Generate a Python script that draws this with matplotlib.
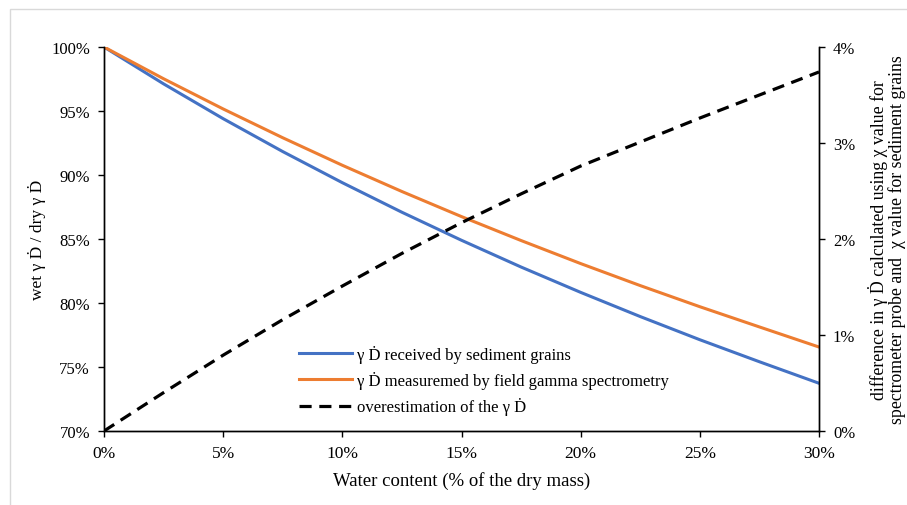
import matplotlib.pyplot as plt
from matplotlib.patches import Rectangle
from matplotlib.ticker import PercentFormatter

plt.rcParams['font.family'] = ['Liberation Serif', 'DejaVu Serif']
plt.rcParams['font.size'] = 12

# water content (% of dry mass)
water = [0, 2.5, 5, 7.5, 10, 12.5, 15, 17.5, 20, 22.5, 25, 27.5, 30]
# wet / dry dose-rate ratio (%)
grains = [100, 97.12, 94.40, 91.83, 89.40, 87.09, 84.90, 82.81, 80.83, 78.94, 77.13, 75.41, 73.73]
probe = [100, 97.52, 95.16, 92.91, 90.76, 88.71, 86.75, 84.88, 83.08, 81.36, 79.71, 78.13, 76.56]
# overestimation (%), right axis
overest = [0, 0.40, 0.79, 1.16, 1.51, 1.85, 2.17, 2.47, 2.76, 3.01, 3.26, 3.50, 3.74]

fig = plt.figure(figsize=(9.07, 5.06), dpi=100)
ax = fig.add_axes([104 / 907, 1 - 432 / 506, 715 / 907, 384 / 506])
ax2 = ax.twinx()

l1, = ax.plot(water, grains, color='#4472C4', lw=2.2, label='γ Ḋ received by sediment grains')
l2, = ax.plot(water, probe, color='#ED7D31', lw=2.2, label='γ Ḋ measuremed by field gamma spectrometry')
l3, = ax2.plot(water, overest, color='black', lw=2.3, ls=(0, (3.8, 2.4)),
               label='overestimation of the γ Ḋ')

ax.set_xlim(0, 30)
ax.set_ylim(70, 100)
ax2.set_ylim(0, 4)
ax.set_xticks(range(0, 31, 5))
ax.set_yticks(range(70, 101, 5))
ax2.set_yticks(range(0, 5))
ax.xaxis.set_major_formatter(PercentFormatter(decimals=0))
ax.yaxis.set_major_formatter(PercentFormatter(decimals=0))
ax2.yaxis.set_major_formatter(PercentFormatter(decimals=0))

for a in (ax, ax2):
    a.spines['top'].set_visible(False)
    for s in a.spines.values():
        s.set_linewidth(1.0)
    a.tick_params(direction='out', length=4, width=1.0, labelsize=12, pad=6)
ax.tick_params(axis='x', labelsize=12.5)

ax.set_xlabel('Water content (% of the dry mass)', fontsize=13.5, labelpad=7)
ax.set_ylabel('wet γ Ḋ / dry γ Ḋ', fontsize=12.5, labelpad=4)
ax2.set_ylabel('difference in γ Ḋ calculated using χ value for\n'
               'spectrometer probe and  χ value for sediment grains',
               fontsize=12.8, labelpad=9, linespacing=1.0)

fig.legend(handles=[l1, l2, l3], loc='upper left', bbox_to_anchor=(292 / 907, 1 - 339 / 506),
           frameon=False, handlelength=3.2, handletextpad=0.3, labelspacing=0.5,
           borderaxespad=0, fontsize=12)

# outer chart-area border (partly cut at right and bottom)
fig.add_artist(Rectangle((10 / 907, -0.5), 2, 1.5 - 10 / 506, transform=fig.transFigure,
                         fill=False, edgecolor='#d9d9d9', lw=1.0, clip_on=False))

fig.savefig('out.png', dpi=100)
